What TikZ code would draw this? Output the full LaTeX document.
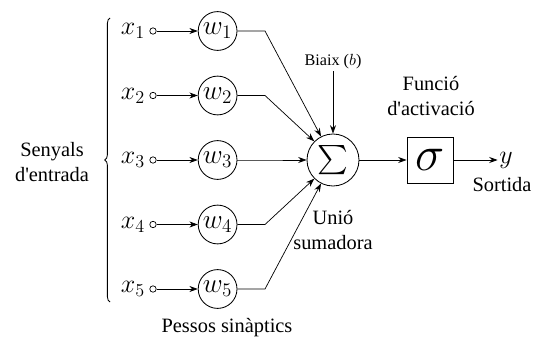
\RequirePackage{fix-cm}
\documentclass[tikz,border=0pt]{standalone}
\usepackage{amsmath}
\usepackage[no-math]{fontspec}
\setmainfont{Liberation Serif}[Ligatures=TeXOff]
\usetikzlibrary{arrows.meta,decorations.pathreplacing}

\tikzset{
  mathlbl/.style={inner sep=1pt, font=\fontsize{18.5}{21}\selectfont},
  txtlbl/.style={inner sep=1pt, align=center, font=\fontsize{14.5}{17.7}\selectfont},
  indot/.style={circle, draw, line width=0.5pt, inner sep=0pt, minimum size=0.16cm},
  weight/.style={circle, draw, line width=0.6pt, inner sep=0pt, minimum size=0.97cm,
    font=\fontsize{19.5}{22}\selectfont},
  wire/.style={->, line width=0.5pt},
}

\begin{document}
\begin{tikzpicture}[>={Stealth[length=2.1mm,width=1.5mm]}]
  \useasboundingbox (0,0) rectangle (13.325,8.45);

  % ---------------- inputs and synaptic weights ----------------
  \def\rowy{4.45}  % y of the middle row
  \def\dy{1.6125}  % row spacing
  \coordinate (bend) at (6.625,0);
  \foreach \i in {1,...,5} {
    \node[mathlbl] (x\i) at (3.325,{\rowy+(3-\i)*\dy}) {$x_{\i}$};
    \node[indot] (d\i) at (3.825,{\rowy+(3-\i)*\dy}) {};
    \node[weight] (w\i) at (5.44,{\rowy+(3-\i)*\dy}) {$w_{\i}$};
    \draw[wire] (d\i) -- (w\i);
  }

  % brace round the inputs
  \coordinate (brbot) at (2.75,0.9);
  \coordinate (brtop) at (2.75,8.0);
  \draw[line width=0.6pt, decorate, decoration={brace, amplitude=0.13cm}]
    (brbot) -- (brtop);
  \node[txtlbl] (inputs) at (1.3,4.4) {Senyals\\d'entrada};
  \node[txtlbl] (weights) at (5.675,0.25) {Pessos sinàptics};

  % ---------------- summing junction ----------------
  \node[circle, draw, line width=0.6pt, inner sep=0pt, minimum size=1.3cm,
    font=\fontsize{22}{25}\selectfont] (sigma) at (8.325,\rowy) {$\sum$};
  \foreach \i/\a in {1/117,2/135,3/180,4/225,5/243}
    \draw[wire] (w\i) -- (w\i -| bend) -- (sigma.\a);
  \node[inner sep=1pt, font=\fontsize{11.5}{14}\selectfont] (bias) at (8.325,6.9) {Biaix ($b$)};
  \draw[wire] (bias) -- (sigma);
  \node[txtlbl] (junct) at (8.325,2.7) {Unió\\sumadora};

  % ---------------- activation and output ----------------
  \node[draw, line width=0.6pt, inner sep=0pt, minimum size=1.15cm,
    font=\fontsize{35}{38}\selectfont] (act) at (10.75,\rowy) {$\sigma$};
  \draw[wire] (sigma) -- (act);
  \node[txtlbl] (actlbl) at (10.775,6.05) {Funció\\d'activació};
  \node[mathlbl] (y) at (12.65,\rowy) {$y$};
  \draw[wire] (act) -- (y);
  \node[txtlbl] (outlbl) at (12.55,3.825) {Sortida};
\end{tikzpicture}
\end{document}
